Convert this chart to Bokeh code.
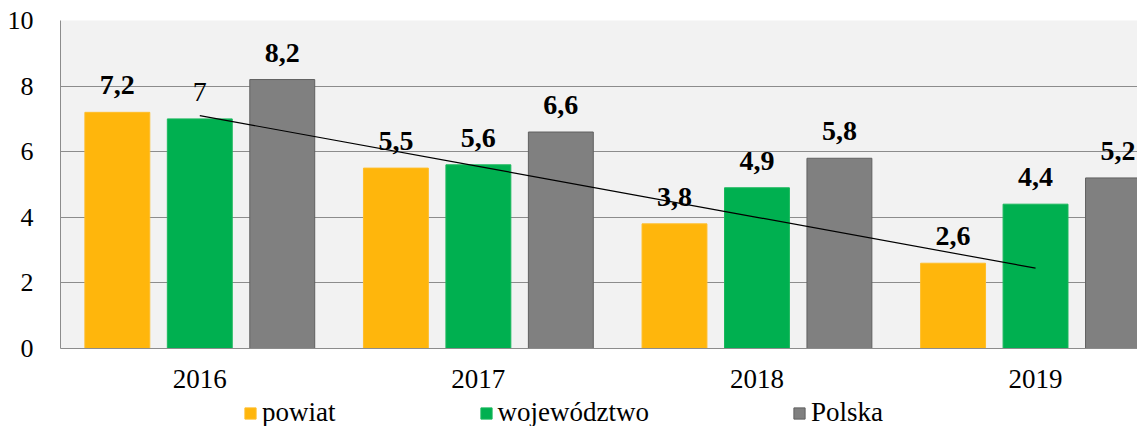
import numpy as np
from bokeh.plotting import figure
from bokeh.layouts import column
from bokeh.models import (ColumnDataSource, Range1d, FixedTicker, Legend, LegendItem)
from bokeh.core.properties import value
from bokeh.embed import file_html
from bokeh.resources import INLINE

# ---- data ----
years = ["2016", "2017", "2018", "2019"]
powiat = [7.2, 5.5, 3.8, 2.6]
wojewodztwo = [7.0, 5.6, 4.9, 4.4]
polska = [8.2, 6.6, 5.8, 5.2]
series_names = ["powiat", "województwo", "Polska"]
y_ticks = [0, 2, 4, 6, 8, 10]

colors = ["#FFB60C", "#00B050", "#808080"]
line_colors = ["#FFBE2A", "#19B85C", "#606060"]
offsets = [-0.296, 0.0, 0.296]
bar_w = 0.233
FONT = "Liberation Serif"

xc = np.arange(len(years)) + 0.5
series = [powiat, wojewodztwo, polska]

p = figure(width=1137, height=395, output_backend="svg", toolbar_location=None,
           x_range=Range1d(0, 3.866), y_range=Range1d(0, 10),
           min_border_left=60, min_border_right=0, min_border_top=20, min_border_bottom=47)
p.background_fill_color = "#F2F2F2"
p.border_fill_color = "white"
p.outline_line_color = None

for vals, off, c, lc in zip(series, offsets, colors, line_colors):
    src = ColumnDataSource(dict(x=xc + off, top=vals))
    p.vbar(x="x", top="top", width=bar_w, bottom=0, source=src,
           fill_color=c, line_color=lc, line_width=1)

# trend line (linear trend of powiat) drawn over category centres
coef = np.polyfit(np.arange(len(powiat)), powiat, 1)
trend = np.polyval(coef, np.arange(len(powiat)))
p.line(x=xc, y=trend, line_color="black", line_width=1.2)

# value labels
lx, ly, lt, ls = [], [], [], []
for vals, off in zip(series, offsets):
    for i, v in enumerate(vals):
        lx.append(xc[i] + off)
        ly.append(v)
        s = ("%g" % v).replace(".", ",")
        lt.append(s)
        ls.append("normal" if s == "7" else "bold")
lsrc = ColumnDataSource(dict(x=lx, y=ly, t=lt, s=ls))
p.text(x="x", y="y", text="t", source=lsrc, text_align="center",
       text_baseline="alphabetic", y_offset=-27, text_font=value(FONT),
       text_font_size="28px", text_font_style="s", text_color="black")

# axes
p.xaxis.ticker = FixedTicker(ticks=list(xc))
p.xaxis.major_label_overrides = {float(x): y for x, y in zip(xc, years)}
p.xaxis.major_tick_line_color = None
p.xaxis.minor_tick_line_color = None
p.xaxis.major_tick_out = 0
p.xaxis.major_tick_in = 0
p.xaxis.axis_line_color = "#8C8C8C"
p.xaxis.major_label_standoff = 21
p.xaxis.major_label_text_font = FONT
p.xaxis.major_label_text_font_size = "27px"
p.xaxis.major_label_text_color = "black"

p.yaxis.ticker = FixedTicker(ticks=y_ticks)
p.yaxis.major_tick_line_color = None
p.yaxis.minor_tick_line_color = None
p.yaxis.major_tick_out = 0
p.yaxis.major_tick_in = 0
p.yaxis.axis_line_color = "#8C8C8C"
p.yaxis.major_label_standoff = 27
p.yaxis.major_label_text_font = FONT
p.yaxis.major_label_text_font_size = "26px"
p.yaxis.major_label_text_color = "black"

p.xgrid.grid_line_color = None
p.ygrid.ticker = FixedTicker(ticks=y_ticks)
p.ygrid.grid_line_color = "#8C8C8C"
p.ygrid.grid_line_width = 1

# legend strip below the chart (its bars lie far outside its visible range;
# they only provide the legend swatches)
lg = figure(width=1137, height=31, output_backend="svg", toolbar_location=None,
            x_range=Range1d(0, 3.866), y_range=Range1d(40, 41),
            x_axis_type=None, y_axis_type=None, min_border=0)
lg.outline_line_color = None
lg.grid.visible = False
lg.background_fill_color = "white"
lg.border_fill_color = "white"
leg_renderers = []
for vals, off, c, lc in zip(series, offsets, colors, line_colors):
    src = ColumnDataSource(dict(x=xc + off, top=vals))
    leg_renderers.append(lg.vbar(x="x", top="top", bottom=0, width=bar_w, source=src,
                                 fill_color=c, line_color=lc, line_width=1))

legend = Legend(items=[LegendItem(label=n, renderers=[r]) for n, r in zip(series_names, leg_renderers)],
                orientation="horizontal", location=(183, -2),
                glyph_width=14, glyph_height=14, label_standoff=5, spacing=143,
                padding=0, margin=0, border_line_color=None, background_fill_alpha=0,
                label_text_font=FONT, label_text_font_size="27px", label_text_color="black")
lg.add_layout(legend, "center")

layout = column(p, lg, spacing=0)
open("out.html", "w").write(file_html(layout, INLINE))
